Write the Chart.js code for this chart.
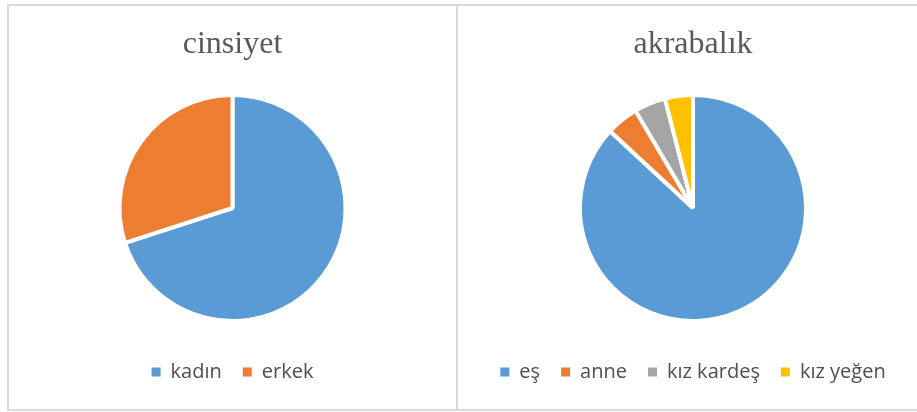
<!DOCTYPE html>
<html>
<head>
<meta charset="utf-8">
<script src="https://cdn.jsdelivr.net/npm/chart.js@4"></script>
<style>
  html, body { margin: 0; padding: 0; background: #fff; width: 917px; height: 412px; overflow: hidden; position: relative; }
  .box { position: absolute; box-sizing: border-box; border: 2px solid #d9d9d9; }
  #boxL { left: 7px; top: 4px; width: 451px; height: 407px; }
  #boxR { left: 456px; top: 4px; width: 480px; height: 407px; border-left: none; }
  canvas { position: absolute; }
  #c1 { left: 9px; top: 6px; }
  #c2 { left: 458px; top: 6px; }
</style>
</head>
<body>
<div class="box" id="boxL"></div>
<div class="box" id="boxR"></div>
<canvas id="c1" width="447" height="403"></canvas>
<canvas id="c2" width="470" height="403"></canvas>
<script>
// ---- data ----
const genderTitle = "cinsiyet";
const genderLabels = ["kadın", "erkek"];
const genderValues = [70, 30];

const relationTitle = "akrabalık";
const relationLabels = ["eş", "anne", "kız kardeş", "kız yeğen"];
const relationValues = [86.9, 4.6, 4.5, 4.0];

const palette = ["#5B9BD5", "#ED7D31", "#A5A5A5", "#FFC000"];

function makePie(id, title, labels, values) {
  return new Chart(document.getElementById(id), {
    type: 'pie',
    data: {
      labels: labels,
      datasets: [{
        data: values,
        backgroundColor: palette.slice(0, values.length),
        borderColor: '#ffffff',
        borderWidth: 4,
        hoverOffset: 0
      }]
    },
    options: {
      responsive: false,
      animation: false,
      radius: 113,
      layout: { padding: { top: 0, bottom: 17, left: 0, right: 0 } },
      plugins: {
        title: {
          display: true,
          text: title,
          color: '#595959',
          font: { family: '"Liberation Serif", "Times New Roman", serif', size: 32, weight: 'normal', lineHeight: 1.2 },
          padding: { top: 19, bottom: 11.6 }
        },
        legend: {
          position: 'bottom',
          labels: {
            color: '#4f4f4f',
            font: { family: '"Open Sans", sans-serif', size: 20 },
            boxWidth: 9,
            boxHeight: 9,
            padding: 21,
            generateLabels: function (chart) {
              const items = Chart.controllers.pie.overrides.plugins.legend.labels.generateLabels(chart);
              items.forEach(it => { it.lineWidth = 0; it.strokeStyle = it.fillStyle; });
              return items;
            }
          }
        },
        tooltip: { enabled: false }
      }
    }
  });
}

makePie('c1', genderTitle, genderLabels, genderValues);
makePie('c2', relationTitle, relationLabels, relationValues);
</script>
</body>
</html>
